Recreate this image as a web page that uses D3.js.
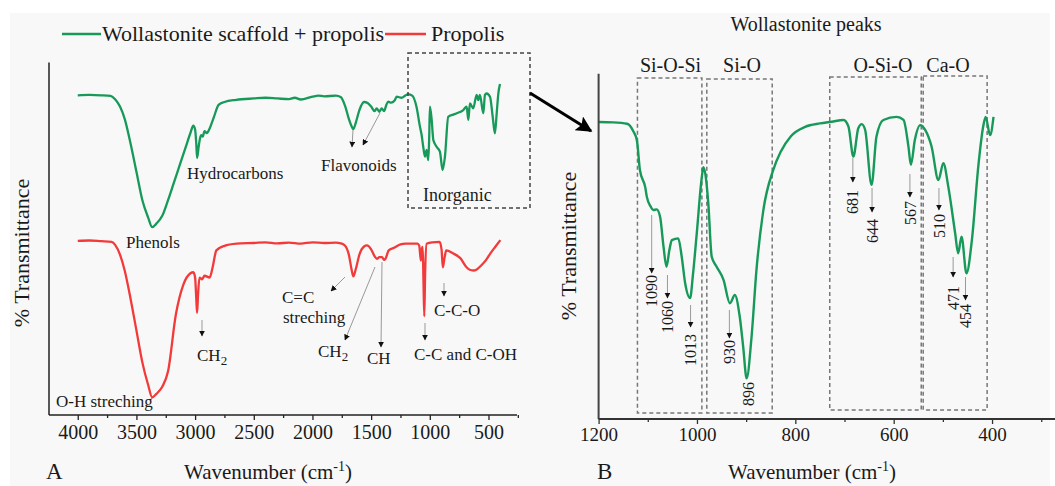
<!DOCTYPE html>
<html>
<head>
<meta charset="utf-8">
<script src="https://cdn.jsdelivr.net/npm/d3@7"></script>
<style>
  html, body { margin: 0; padding: 0; background: #ffffff; }
  svg { display: block; }
  text { font-family: "Liberation Serif", "Times New Roman", serif; fill: #1a1a1a; }
</style>
</head>
<body>
<svg id="chart" width="1055" height="486"></svg>
<script>
// ---------------- DATA ----------------
// Panel A: wavenumber (cm-1) and transmittance (a.u.)
const wnWollPropolis = [4000,3900,3800,3720,3680,3640,3600,3550,3500,3450,3400,3366,3330,3280,3230,3180,3130,3080,3040,3015,3000,2990,2983,2970,2958,2948,2935,2920,2900,2876,2840,2800,2750,2650,2500,2400,2300,2200,2150,2100,2000,1950,1900,1800,1760,1720,1690,1665,1652,1630,1600,1560,1530,1500,1470,1453,1430,1410,1390,1370,1354,1330,1300,1282,1240,1210,1184,1150,1114,1084,1070,1056,1041,1027,1013,1005,999,984,970,942,914,891,871,843,800,771,715,686,672,658,630,601,587,573,544,530,516,487,464,445,430,416,402];
const tWollPropolis  = [90.7,90.8,90.7,90.5,89.5,87.5,84.0,77.0,69.0,61.0,56.0,53.3,54.3,56.5,61.0,66.0,71.0,76.0,80.0,82.1,81.0,77.0,72.9,76.0,78.5,79.4,79.0,80.5,80.0,81.3,84.5,88.0,88.8,89.4,89.8,90.0,89.8,89.6,90.0,89.5,90.3,90.6,90.4,90.6,90.2,87.5,84.0,81.8,81.1,83.0,86.5,88.8,88.5,87.5,86.2,87.0,86.0,87.0,86.2,88.0,88.9,88.6,89.2,90.3,90.0,90.6,91.0,90.6,87.5,81.8,79.5,76.1,73.3,75.2,72.3,79.0,87.5,83.7,78.0,76.1,74.7,69.5,73.3,84.6,85.2,85.6,86.5,87.5,83.7,88.4,87.0,90.8,89.3,90.8,85.6,90.8,91.2,90.3,84.6,79.9,85.6,91.2,93.9];

const wnPropolis = [4000,3900,3800,3712,3680,3640,3600,3550,3500,3450,3400,3366,3330,3280,3230,3164,3100,3040,3015,3000,2990,2983,2975,2963,2940,2920,2876,2850,2819,2750,2646,2500,2400,2300,2200,2100,2000,1900,1800,1760,1724,1690,1665,1652,1630,1600,1560,1537,1500,1470,1450,1430,1407,1390,1378,1350,1300,1250,1205,1150,1105,1090,1076,1068,1061,1054,1047,1040,1027,980,917,900,889,875,860,800,740,687,660,629,600,560,520,485,440,399];
const tPropolis  = [49.4,49.5,49.3,49.1,48.2,45.5,41.0,33.0,24.0,15.0,8.5,5.0,6.0,8.0,12.5,28.5,37.0,40.2,40.5,39.0,33.0,29.0,34.0,39.0,38.5,39.5,39.0,42.0,46.7,48.0,48.6,48.8,49.0,48.7,48.9,48.6,49.0,48.8,48.9,48.7,48.1,45.5,41.0,39.3,41.5,45.5,47.8,48.1,47.0,45.0,44.3,44.8,44.8,44.0,44.3,46.7,47.5,48.4,48.6,48.6,48.6,48.0,43.8,47.0,47.7,38.0,28.0,40.0,48.6,49.0,49.1,47.0,41.9,44.5,46.7,45.8,44.5,41.9,41.2,41.0,41.3,42.5,44.0,45.8,47.8,49.6];

// Panel B: Wollastonite scaffold + propolis, 1200-400 cm-1
const wnWollB = [1200,1170,1142,1130,1122,1116,1105,1102,1094,1089,1082,1075,1068,1062,1056,1051,1038,1031,1024,1014,1008,1001,990,987,982,977,970,960,946,933,923,913,906,899,889,879,865,845,830,809,780,750,726,702,692,682,672,665,658,645,635,621,594,580,570,565,557,546,536,523,509,499,489,475,469,462,452,441,428,418,413,404,397];
const tWollB  = [86.0,85.9,85.5,83.5,80.6,72.1,67.0,64.4,61.5,60.5,60.7,58.6,49.9,44.1,49.0,51.8,52.3,47.0,39.3,35.0,42.0,52.8,70.2,72.9,70.0,62.6,47.0,44.1,40.3,33.5,35.9,29.6,20.9,11.8,23.8,43.2,60.5,72.1,77.3,81.9,84.6,85.6,86.1,86.6,84.7,76.0,84.2,85.4,83.7,67.8,81.8,86.6,87.5,86.6,78.9,73.6,80.8,85.1,83.7,78.9,69.2,74.1,67.3,53.8,48.0,52.8,42.2,51.8,73.1,84.7,87.5,82.2,87.5];

// Tick labels
const ticksA = [4000,3500,3000,2500,2000,1500,1000,500];
const minorTicksA = [3750,3250,2750,2250,1750,1250,750,250];
const ticksB = [1200,1000,800,600,400];
const minorTicksB = [1100,900,700,500,300];

// Panel B band groups (wavenumber ranges) and peak labels
const bandNames  = ["Si-O-Si","Si-O","O-Si-O","Ca-O"];
const bandFrom   = [1121, 980, 730, 540];
const bandTo     = [990, 847, 544, 410];
const peaksB     = [1090,1060,1013,930,896,681,644,567,510,471,454];

// ---------------- LAYOUT ----------------
const svg = d3.select("#chart");
const W = 1055, H = 486;
const green = "#17995a", red = "#f23a3a";

svg.append("rect").attr("x", 0).attr("y", 0).attr("width", W).attr("height", H).attr("fill", "#ffffff");
svg.append("rect").attr("x", 10).attr("y", 13).attr("width", 1040).attr("height", H - 13).attr("fill", "#f8f8f8");

const defs = svg.append("defs");
defs.append("marker").attr("id", "ah").attr("viewBox", "0 0 10 10").attr("refX", 9).attr("refY", 5)
  .attr("markerWidth", 6).attr("markerHeight", 6).attr("markerUnits", "userSpaceOnUse").attr("orient", "auto")
  .append("path").attr("d", "M0,0 L10,5 L0,10 z").attr("fill", "#111");
defs.append("marker").attr("id", "big").attr("viewBox", "0 0 10 10").attr("refX", 9).attr("refY", 5)
  .attr("markerWidth", 20).attr("markerHeight", 16).attr("markerUnits", "userSpaceOnUse").attr("orient", "auto")
  .append("path").attr("d", "M0,0 L10,5 L0,10 L2,5 z").attr("fill", "#000");

// ---------- Panel A ----------
const xA = d3.scaleLinear().domain([4245, 257]).range([49, 517]);
const yA = d3.scaleLinear().domain([0, 100]).range([415, 62.5]);
const lineA = d3.line().x(d => xA(d[0])).y(d => yA(d[1])).curve(d3.curveMonotoneX);

const gA = svg.append("g");
gA.append("path").datum(wnWollPropolis.map((w, i) => [w, tWollPropolis[i]]))
  .attr("d", lineA).attr("fill", "none").attr("stroke", green).attr("stroke-width", 2.3);
gA.append("path").datum(wnPropolis.map((w, i) => [w, tPropolis[i]]))
  .attr("d", lineA).attr("fill", "none").attr("stroke", red).attr("stroke-width", 2.3);

// axes A
gA.append("line").attr("x1", 49).attr("x2", 49).attr("y1", 62.5).attr("y2", 415).attr("stroke", "#222").attr("stroke-width", 1.5);
const axA = d3.axisBottom(xA).tickValues(ticksA).tickSize(5).tickFormat(d3.format("d"));
const axAg = gA.append("g").attr("transform", "translate(0,415)").call(axA);
axAg.select(".domain").attr("d", "M49,0H517").attr("stroke", "#222").attr("stroke-width", 1.5);
axAg.selectAll(".tick line").attr("stroke", "#222").attr("stroke-width", 1.3);
axAg.selectAll(".tick text").attr("font-family", "Liberation Serif").attr("font-size", 20).attr("fill", "#1a1a1a").attr("dy", "0.95em").attr("y", 5);
const axAm = gA.append("g").attr("transform", "translate(0,415)").call(d3.axisBottom(xA).tickValues(minorTicksA).tickSize(3).tickFormat(""));
axAm.select(".domain").remove();
axAm.selectAll(".tick line").attr("stroke", "#222").attr("stroke-width", 1.3);

gA.append("text").attr("transform", "translate(21,253) rotate(-90)").attr("text-anchor", "middle")
  .attr("dy", "0.35em").attr("font-size", 22).text("% Transmittance");
const tA = gA.append("text").attr("x", 268).attr("y", 479).attr("text-anchor", "middle").attr("font-size", 21);
tA.append("tspan").text("Wavenumber (cm");
tA.append("tspan").attr("font-size", 14).attr("dy", -8).text("-1");
tA.append("tspan").attr("dy", 8).text(")");
gA.append("text").attr("x", 46).attr("y", 479).attr("font-size", 23).text("A");

// legend
gA.append("line").attr("x1", 62).attr("x2", 101).attr("y1", 34).attr("y2", 34).attr("stroke", green).attr("stroke-width", 2.4);
gA.append("text").attr("x", 102).attr("y", 41).attr("font-size", 22).text("Wollastonite scaffold + propolis");
gA.append("line").attr("x1", 385).attr("x2", 426).attr("y1", 34).attr("y2", 34).attr("stroke", red).attr("stroke-width", 2.4);
gA.append("text").attr("x", 431).attr("y", 41).attr("font-size", 22).text("Propolis");

// inorganic box
gA.append("rect").attr("x", 408).attr("y", 53).attr("width", 122).attr("height", 155)
  .attr("fill", "none").attr("stroke", "#444").attr("stroke-width", 1.5).attr("stroke-dasharray", "4,3");

// annotations A
const annA = [
  {t: "Hydrocarbons", x: 187, y: 179, s: 17},
  {t: "Flavonoids", x: 321, y: 171, s: 17},
  {t: "Inorganic", x: 423, y: 201, s: 18},
  {t: "Phenols", x: 126, y: 248, s: 17},
  {t: "O-H streching", x: 56, y: 407, s: 17},
  {t: "CH", sub: "2", x: 197, y: 361, s: 17},
  {t: "C=C", x: 282, y: 303, s: 17},
  {t: "streching", x: 283, y: 323, s: 17},
  {t: "CH", sub: "2", x: 318, y: 357, s: 17},
  {t: "CH", x: 367, y: 364, s: 17},
  {t: "C-C and C-OH", x: 414, y: 360, s: 17},
  {t: "C-C-O", x: 434, y: 316, s: 17}
];
annA.forEach(a => {
  const t = gA.append("text").attr("x", a.x).attr("y", a.y).attr("font-size", a.s);
  t.append("tspan").text(a.t);
  if (a.sub) t.append("tspan").attr("font-size", 13).attr("dy", 4).text(a.sub);
});
const arrA = [
  [353,130,352,147],[380,113,363,145],[202,320,202,336],[345,277,331,291],
  [375,267,345,340],[382,262,381,347],[425,323,425,340],[444,283,444,296]
];
arrA.forEach(a => {
  gA.append("line").attr("x1", a[0]).attr("y1", a[1]).attr("x2", a[2]).attr("y2", a[3])
    .attr("stroke", "#999").attr("stroke-width", 1).attr("marker-end", "url(#ah)");
});

// big arrow
svg.append("line").attr("x1", 530).attr("y1", 93).attr("x2", 591).attr("y2", 131)
  .attr("stroke", "#000").attr("stroke-width", 3).attr("marker-end", "url(#big)");

// ---------- Panel B ----------
const xB = d3.scaleLinear().domain([1200, 272]).range([598.6, 1055]);
const yB = d3.scaleLinear().domain([0, 100]).range([419, 73.7]);
const lineB = d3.line().x(d => xB(d[0])).y(d => yB(d[1])).curve(d3.curveMonotoneX);
const gB = svg.append("g");

// band boxes
const boxTop = [78, 79, 77, 76], boxBot = [413, 413, 410, 410], labY = 72;
bandNames.forEach((n, i) => {
  const x0 = xB(bandFrom[i]), x1 = xB(bandTo[i]);
  gB.append("rect").attr("x", x0).attr("y", boxTop[i]).attr("width", x1 - x0).attr("height", boxBot[i] - boxTop[i])
    .attr("fill", "none").attr("stroke", "#777").attr("stroke-width", 1.5).attr("stroke-dasharray", "4,3");
});
const bandLabelX = [670.5, 742, 883, 948];
bandNames.forEach((n, i) => {
  gB.append("text").attr("x", bandLabelX[i]).attr("y", labY).attr("text-anchor", "middle").attr("font-size", 20).text(n);
});
gB.append("text").attr("x", 806).attr("y", 31).attr("text-anchor", "middle").attr("font-size", 20).text("Wollastonite peaks");

gB.append("path").datum(wnWollB.map((w, i) => [w, tWollB[i]]))
  .attr("d", lineB).attr("fill", "none").attr("stroke", green).attr("stroke-width", 2.4);

gB.append("line").attr("x1", 598.6).attr("x2", 598.6).attr("y1", 73.7).attr("y2", 419).attr("stroke", "#444").attr("stroke-width", 2);
const axBg = gB.append("g").attr("transform", "translate(0,419)").call(d3.axisBottom(xB).tickValues(ticksB).tickSize(5).tickFormat(d3.format("d")));
axBg.select(".domain").attr("d", "M598.6,0H1055").attr("stroke", "#333").attr("stroke-width", 1.8);
axBg.selectAll(".tick line").attr("stroke", "#333").attr("stroke-width", 1.3);
axBg.selectAll(".tick text").attr("font-family", "Liberation Sans, Arial, sans-serif").attr("font-size", 19).attr("fill", "#1a1a1a").attr("y", 9).attr("dy", "0.71em");
const axBm = gB.append("g").attr("transform", "translate(0,419)").call(d3.axisBottom(xB).tickValues(minorTicksB).tickSize(3).tickFormat(""));
axBm.select(".domain").remove();
axBm.selectAll(".tick line").attr("stroke", "#333").attr("stroke-width", 1.3);

gB.append("text").attr("transform", "translate(568,246) rotate(-90)").attr("text-anchor", "middle")
  .attr("dy", "0.35em").attr("font-size", 22).text("% Transmittance");
const tB = gB.append("text").attr("x", 812).attr("y", 479).attr("text-anchor", "middle").attr("font-size", 21);
tB.append("tspan").text("Wavenumber (cm");
tB.append("tspan").attr("font-size", 14).attr("dy", -8).text("-1");
tB.append("tspan").attr("dy", 8).text(")");
gB.append("text").attr("x", 597).attr("y", 479).attr("font-size", 23).text("B");

// peak labels: arrow start/end y, text top y and small x offsets (pixels)
const peakArrow = [[215,273],[275,298],[305,327],[310,338],null,[158,182],[188,212],[174,197],[188,210],[257,277],[277,300]];
const peakTextTop = [275,301,334,340,382,190,219,201,214,286,304];
const peakDx = [-1,0,0,-2,0,-1,0,0,1,-4,0];
peaksB.forEach((p, i) => {
  const x = xB(p) + peakDx[i];
  if (peakArrow[i]) {
    gB.append("line").attr("x1", x).attr("x2", x).attr("y1", peakArrow[i][0]).attr("y2", peakArrow[i][1])
      .attr("stroke", "#999").attr("stroke-width", 1).attr("marker-end", "url(#ah)");
  }
  gB.append("text").attr("transform", `translate(${x},${peakTextTop[i]}) rotate(-90)`)
    .attr("text-anchor", "end").attr("dy", "0.35em").attr("font-size", 16).text(p);
});
</script>
</body>
</html>
